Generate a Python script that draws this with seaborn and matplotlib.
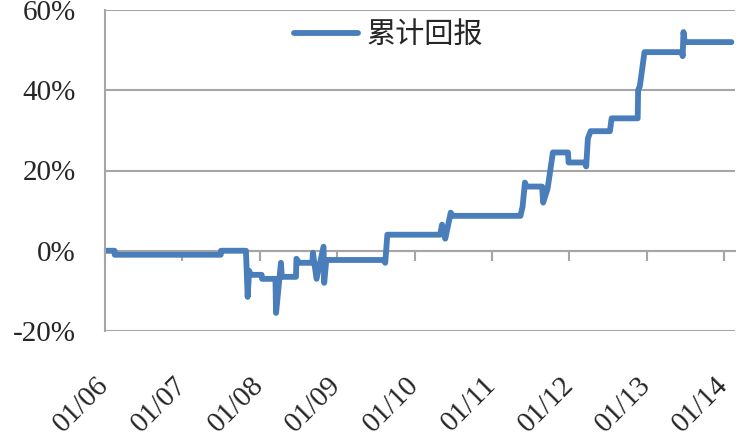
import matplotlib
matplotlib.use('Agg')
import matplotlib.pyplot as plt
import matplotlib.dates as mdates
from matplotlib import font_manager
from matplotlib.ticker import PercentFormatter
import seaborn as sns
import pandas as pd

sns.set_style('white')
installed = {f.name for f in font_manager.fontManager.ttflist}
serif = next(n for n in ['Liberation Serif', 'Times New Roman', 'Nimbus Roman',
                         'DejaVu Serif', 'DejaVu Sans'] if n in installed)
plt.rcParams['font.family'] = [serif, 'Noto Sans CJK SC']
plt.rcParams['axes.unicode_minus'] = False

# 累计回报 (读图估计, 单位 %)
dates = [
    '2006-01-01', '2006-02-15', '2006-02-16', '2007-07-01', '2007-07-02',
    '2007-10-28', '2007-11-05', '2007-11-12', '2007-11-20', '2008-01-10',
    '2008-01-12', '2008-03-15', '2008-03-18', '2008-04-10', '2008-04-14',
    '2008-06-20', '2008-06-22', '2008-07-05', '2008-09-05', '2008-09-08',
    '2008-09-25', '2008-10-28', '2008-10-31', '2008-11-10', '2009-08-05',
    '2009-08-15', '2009-08-25', '2010-05-01', '2010-05-10', '2010-05-25',
    '2010-06-20', '2010-06-28', '2011-05-15', '2011-05-25', '2011-06-05',
    '2011-06-12', '2011-08-25', '2011-08-30', '2011-09-20', '2011-10-15',
    '2011-12-25', '2011-12-28', '2012-03-15', '2012-03-20', '2012-03-28',
    '2012-04-10', '2012-07-10', '2012-07-18', '2012-11-18', '2012-11-20',
    '2012-11-28', '2012-12-20', '2013-06-15', '2013-06-18', '2013-06-22',
    '2013-06-28', '2014-02-03',
]
returns = [
    0, 0, -1, -1, 0,
    0, -11.5, -5, -6, -6,
    -7, -7, -15.5, -3, -6.5,
    -6.5, -2, -3, -3, -0.5,
    -7, 1, -8, -2.3, -2.3,
    -3, 4, 4, 6.5, 3,
    9.5, 8.7, 8.7, 11, 17,
    16, 16, 12, 15.5, 24.5,
    24.5, 22, 22, 21, 28,
    29.8, 29.8, 33, 33, 40,
    41, 49.5, 49.5, 48.5, 54.5,
    52, 52,
]
tick_years = ['2006', '2007', '2008', '2009', '2010', '2011', '2012', '2013', '2014']
y_ticks = [-0.2, 0, 0.2, 0.4, 0.6]

df = pd.DataFrame({'date': pd.to_datetime(dates), 'ret': [r / 100 for r in returns]})

fig = plt.figure(figsize=(7.44, 4.47), dpi=100)
ax = fig.add_axes([105 / 744, 1 - 331 / 447, 630 / 744, 321 / 447])

grey = '#A6A6A6'
sns.lineplot(data=df, x='date', y='ret', ax=ax, color='#4A7EBB', lw=4.2,
             estimator=None, label='累计回报', solid_capstyle='round')

ax.set_xlim(pd.Timestamp('2006-01-01'), pd.Timestamp('2014-02-20'))
ax.set_ylim(-0.2, 0.6)
ax.set_yticks(y_ticks)
ax.yaxis.set_major_formatter(PercentFormatter(1.0, decimals=0))
ax.grid(axis='y', color=grey, lw=1.5)
ax.grid(axis='x', visible=False)
ax.set_xlabel('')
ax.set_ylabel('')

for s in ['top', 'right', 'bottom']:
    ax.spines[s].set_visible(False)
ax.spines['left'].set_color(grey)
ax.spines['left'].set_linewidth(1.5)

ticks = pd.to_datetime([y + '-01-01' for y in tick_years])
ax.set_xticks(ticks)
ax.xaxis.set_major_formatter(mdates.DateFormatter('%m/%y'))
ax.tick_params(axis='x', length=0, pad=36, labelsize=21)
for lab in ax.get_xticklabels():
    lab.set_rotation(45)
    lab.set_ha('right')
    lab.set_va('center')
    lab.set_rotation_mode('anchor')
ax.tick_params(axis='y', length=7, width=1.5, color=grey, pad=14, labelsize=21)

# 0% 处的横轴与刻度
sec = ax.secondary_xaxis(0.25)
sec.set_xticks(ticks)
sec.tick_params(axis='x', length=7, width=1.5, color=grey, labelbottom=False)
sec.spines['bottom'].set_color(grey)
sec.spines['bottom'].set_linewidth(1.5)

leg = ax.legend(loc='center', bbox_to_anchor=(0.45, 0.92), frameon=False,
                fontsize=21, handlelength=2.2, handletextpad=0.3)

fig.savefig('out.png', dpi=100)
